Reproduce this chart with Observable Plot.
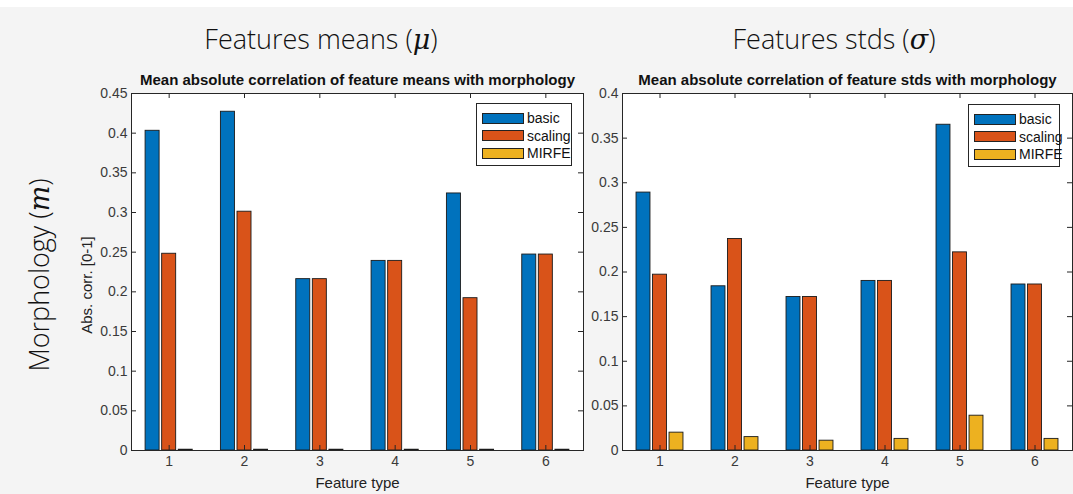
<!DOCTYPE html>
<html>
<head>
<meta charset="utf-8">
<script src="https://cdn.jsdelivr.net/npm/d3@7"></script>
<script src="https://cdn.jsdelivr.net/npm/@observablehq/plot@0.6"></script>
<style>
  html, body { margin: 0; padding: 0; background: #f4f4f4; }
  #root { position: relative; width: 1073px; height: 494px; overflow: hidden; background: #f4f4f4; font-family: "Liberation Sans", Arial, sans-serif; }
  #topstrip { position: absolute; left: 0; top: 0; width: 1073px; height: 7px; background: #ffffff; }
  .panel { position: absolute; top: 0; }
  .head { position: absolute; font-family: "Open Sans", "Noto Sans", sans-serif; font-weight: 300; font-size: 27px; color: #111; white-space: nowrap; transform: translate(-50%, -50%); }
  .head i { font-family: "DejaVu Serif", "Liberation Serif", serif; font-style: italic; }
  .legend { position: absolute; background: #fff; border: 1px solid #262626; box-sizing: border-box; font-family: "Liberation Sans", Arial, sans-serif; font-size: 14px; color: #111; }
  .legend .row { position: absolute; left: 5px; height: 12px; display: flex; align-items: center; }
  .legend .sw { width: 42px; height: 11px; border: 1px solid #222; box-sizing: border-box; margin-right: 3px; }
</style>
</head>
<body>
<div id="root">
  <div id="topstrip"></div>
  <div class="head" style="left:321px; top:38px;">Features means (<i>μ</i>)</div>
  <div class="head" style="left:834px; top:38px;">Features stds (<i>σ</i>)</div>
  <div class="head" style="left:38px; top:275px; transform: translate(-50%, -50%) rotate(-90deg);">Morphology (<i>m</i>)</div>
  <div id="left" class="panel" style="left:0px;"></div>
  <div id="right" class="panel" style="left:540px;"></div>
  <div id="legLeft" class="legend" style="left:476px; top:103px; width:96px; height:63px;"></div>
  <div id="legRight" class="legend" style="left:968px; top:104px; width:92px; height:63px;"></div>
</div>
<script>
// ---------- data ----------
const featureTypes = [1, 2, 3, 4, 5, 6];
const seriesNames = ["basic", "scaling", "MIRFE"];
const seriesColors = ["#0072BD", "#D95319", "#EDB120"];

const meansBasic   = [0.403, 0.427, 0.216, 0.239, 0.324, 0.247];
const meansScaling = [0.248, 0.301, 0.216, 0.239, 0.192, 0.247];
const meansMIRFE   = [0.001, 0.001, 0.001, 0.001, 0.001, 0.001];

const stdsBasic   = [0.289, 0.184, 0.172, 0.190, 0.365, 0.186];
const stdsScaling = [0.197, 0.237, 0.172, 0.190, 0.222, 0.186];
const stdsMIRFE   = [0.020, 0.015, 0.011, 0.013, 0.039, 0.013];

const meansTicks = [0, 0.05, 0.1, 0.15, 0.2, 0.25, 0.3, 0.35, 0.4, 0.45];
const meansTickLabels = ["0", "0.05", "0.1", "0.15", "0.2", "0.25", "0.3", "0.35", "0.4", "0.45"];
const stdsTicks = [0, 0.05, 0.1, 0.15, 0.2, 0.25, 0.3, 0.35, 0.4];
const stdsTickLabels = ["0", "0.05", "0.1", "0.15", "0.2", "0.25", "0.3", "0.35", "0.4"];
const xTickLabels = ["1", "2", "3", "4", "5", "6"];

const meansTitle = "Mean absolute correlation of feature means with morphology";
const stdsTitle = "Mean absolute correlation of feature stds with morphology";
const xLabel = "Feature type";
const yLabel = "Abs. corr. [0-1]";

// ---------- build ----------
function rows(seriesArrays) {
  const out = [];
  seriesArrays.forEach((vals, si) => {
    vals.forEach((v, fi) => out.push({ ft: featureTypes[fi], si, series: seriesNames[si], value: v }));
  });
  return out;
}

const groupOffset = 0.22;   // distance between bars within a group (x units)
const barWidth = 0.186;     // bar width (x units)

function chart({ data, ticks, tickLabels, title, yLab, width, mL, mR }) {
  const mT = 93, mB = 44, height = 494;
  const W = width - mL - mR, H = height - mT - mB;
  const ymax = ticks[ticks.length - 1];
  const marks = [
    Plot.frame({ fill: "white", stroke: "none" }),
    Plot.rect(data, {
      x1: d => d.ft + (d.si - 1) * groupOffset - barWidth / 2,
      x2: d => d.ft + (d.si - 1) * groupOffset + barWidth / 2,
      y1: 0,
      y2: "value",
      fill: "series",
      stroke: "#1a1a1a",
      strokeWidth: 0.9
    }),
    // inward ticks
    Plot.tickY(ticks, { y: d => d, insetRight: W - 5, stroke: "#262626" }),
    Plot.tickY(ticks, { y: d => d, insetLeft: W - 5, stroke: "#262626" }),
    Plot.tickX(featureTypes, { x: d => d, insetTop: H - 5, stroke: "#262626" }),
    Plot.tickX(featureTypes, { x: d => d, insetBottom: H - 5, stroke: "#262626" }),
    Plot.axisY({ ticks, anchor: "left", tickSize: 0, tickPadding: 4, label: null,
      tickFormat: d => tickLabels[ticks.indexOf(d)], fontSize: 14, fill: "#3a3a3a" }),
    Plot.axisX({ ticks: featureTypes, anchor: "bottom", tickSize: 0, tickPadding: 6, label: null,
      tickFormat: d => xTickLabels[featureTypes.indexOf(d)], fontSize: 14, fill: "#3a3a3a" }),
    Plot.text([xLabel], { text: d => d, frameAnchor: "bottom", lineAnchor: "middle", dy: 33, fontSize: 15, fill: "#222" }),
    Plot.text([title], { text: d => d, frameAnchor: "top", lineAnchor: "middle", dy: -13, fontSize: 15, fontWeight: "bold", fill: "#111" }),
    Plot.frame({ stroke: "#262626", strokeWidth: 1 })
  ];
  if (yLab) {
    marks.push(Plot.text([yLab], { text: d => d, frameAnchor: "left", textAnchor: "middle", lineAnchor: "middle",
      rotate: -90, dx: -44, dy: 13, fontSize: 15, fill: "#222" }));
  }
  return Plot.plot({
    width, height,
    marginLeft: mL, marginRight: mR, marginTop: mT, marginBottom: mB,
    style: { background: "transparent", fontFamily: "'Liberation Sans', Arial, sans-serif", fontSize: "14px", color: "#262626", overflow: "visible" },
    x: { domain: [0.5, 6.5] },
    y: { domain: [0, ymax] },
    color: { domain: seriesNames, range: seriesColors },
    marks
  });
}

document.getElementById("left").appendChild(chart({
  data: rows([meansBasic, meansScaling, meansMIRFE]),
  ticks: meansTicks, tickLabels: meansTickLabels, title: meansTitle, yLab: yLabel,
  width: 600, mL: 131, mR: 17
}));
document.getElementById("right").appendChild(chart({
  data: rows([stdsBasic, stdsScaling, stdsMIRFE]),
  ticks: stdsTicks, tickLabels: stdsTickLabels, title: stdsTitle, yLab: null,
  width: 533, mL: 82, mR: 1
}));

function legend(id) {
  const el = document.getElementById(id);
  seriesNames.forEach((name, i) => {
    const r = document.createElement("div");
    r.className = "row";
    r.style.top = (8 + i * 17.5) + "px";
    const sw = document.createElement("div");
    sw.className = "sw";
    sw.style.background = seriesColors[i];
    const t = document.createElement("span");
    t.textContent = name;
    r.appendChild(sw); r.appendChild(t);
    el.appendChild(r);
  });
}
legend("legLeft");
legend("legRight");
</script>
</body>
</html>
